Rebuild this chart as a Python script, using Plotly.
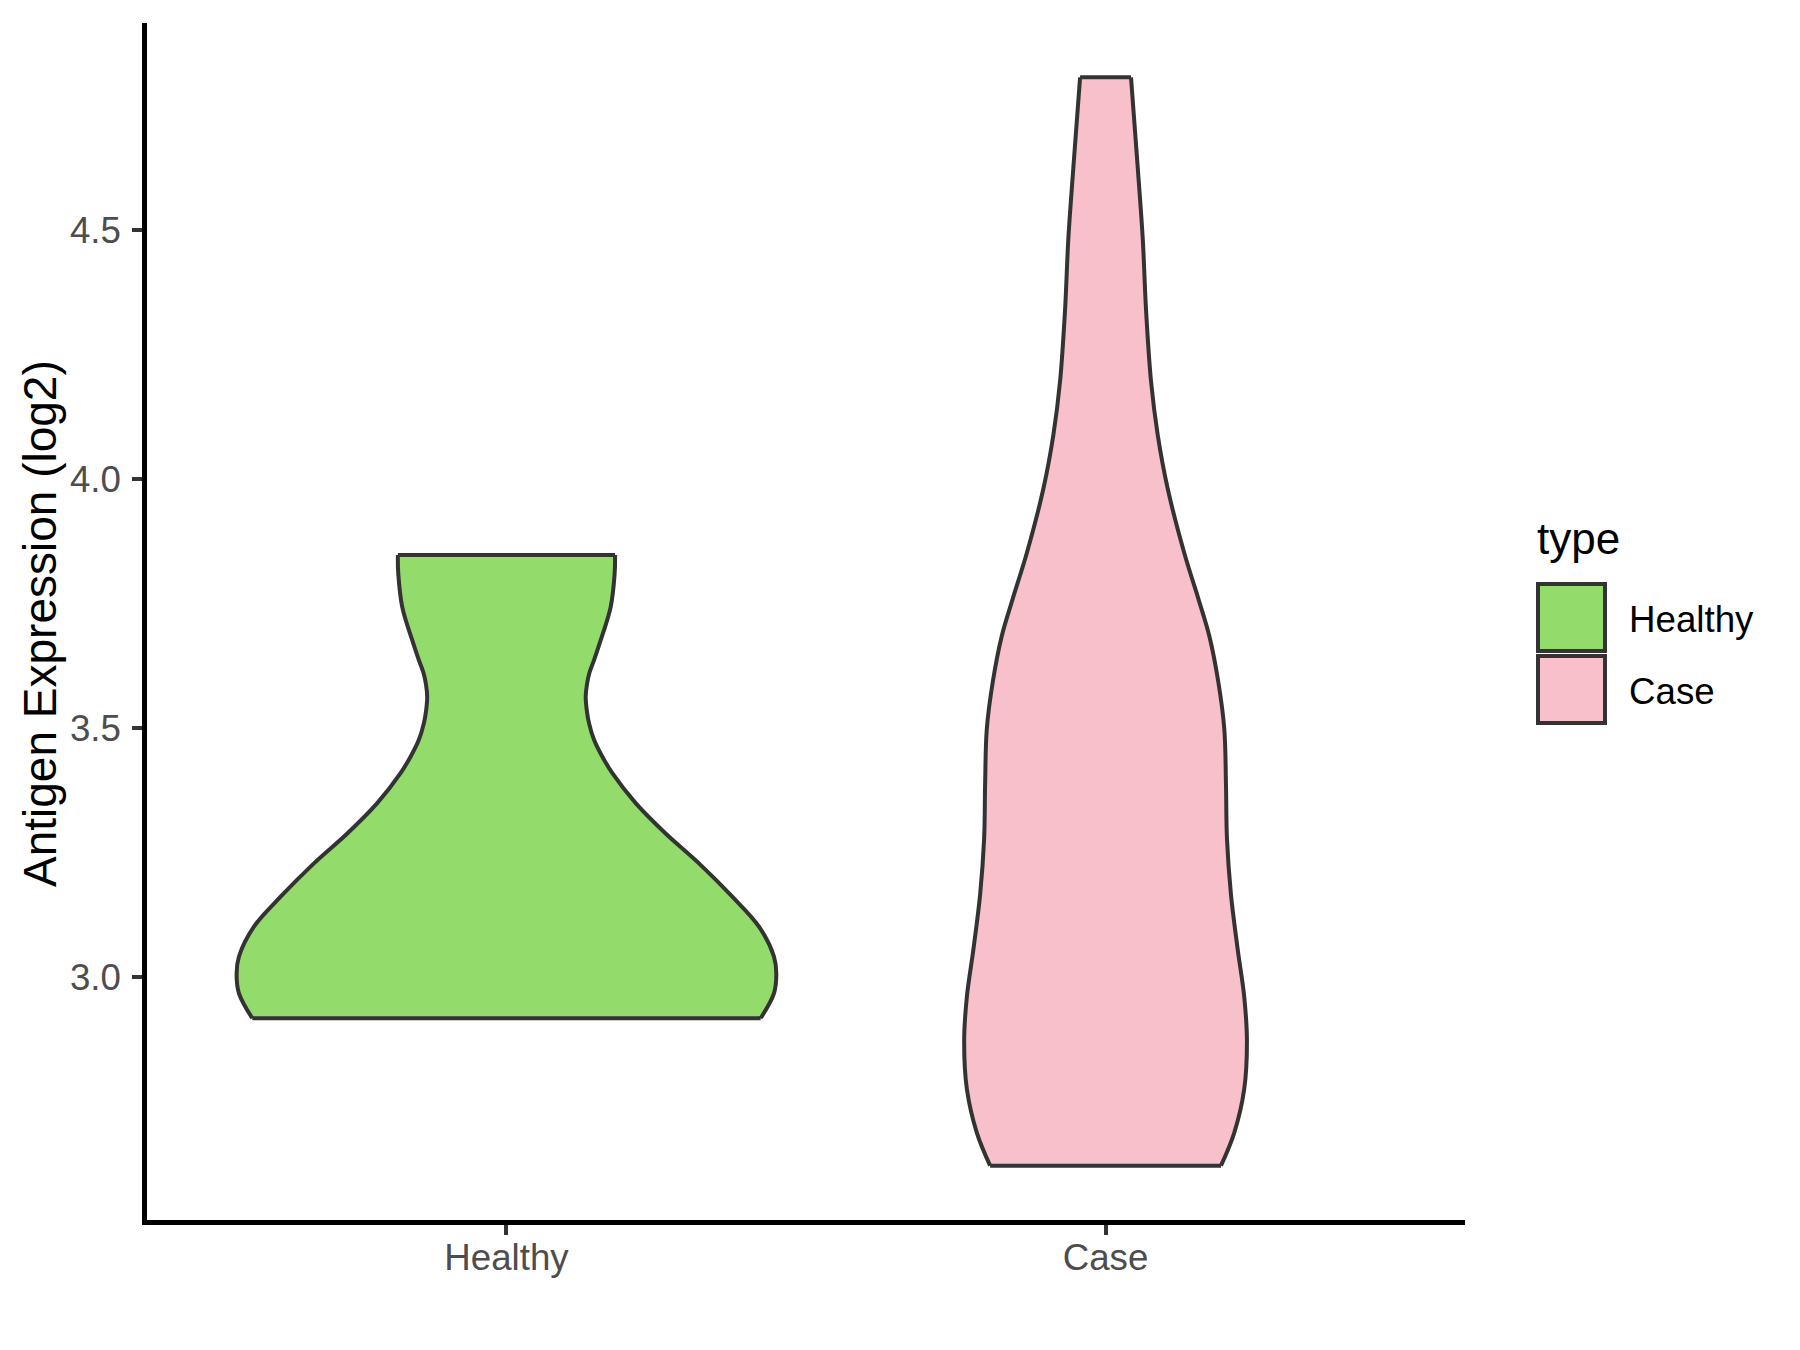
import plotly.graph_objects as go

# ---------------- data ----------------
categories = ["Healthy", "Case"]
fill_colors = ["#93DB6B", "#F7C0CB"]
outline_color = "#333333"

# violin outline: expression level (log2) and half-width of the density shape
healthy_y = [2.917, 2.967, 3.007, 3.041, 3.101, 3.161, 3.228, 3.288, 3.349,
             3.409, 3.442, 3.476, 3.509, 3.536, 3.563, 3.589, 3.610, 3.636,
             3.676, 3.743, 3.810, 3.847]
healthy_halfwidth = [0.4242, 0.4465, 0.4504, 0.4465, 0.4215, 0.3770, 0.3214,
                     0.2657, 0.2157, 0.1768, 0.1601, 0.1462, 0.1379, 0.1340,
                     0.1323, 0.1346, 0.1384, 0.1462, 0.1573, 0.1740, 0.1806,
                     0.1813]

case_y = [2.621, 2.687, 2.775, 2.871, 2.960, 3.056, 3.166, 3.277, 3.388, 3.498,
          3.594, 3.683, 3.757, 3.851, 3.980, 4.088, 4.196, 4.339, 4.482, 4.625,
          4.806]
case_halfwidth = [0.1927, 0.2148, 0.2315, 0.2360, 0.2315, 0.2205, 0.2093,
                  0.2027, 0.2010, 0.1982, 0.1880, 0.1735, 0.1555, 0.1314,
                  0.1038, 0.0871, 0.0759, 0.0676, 0.0621, 0.0537, 0.0425]

y_tick_values = [3.0, 3.5, 4.0, 4.5]
y_tick_labels = ["3.0", "3.5", "4.0", "4.5"]
y_title = "Antigen Expression (log2)"
legend_title = "type"

# ---------------- layout geometry ----------------
W, H = 1800, 1350
PAGE_OFF = 8          # default body margin of the html page
# panel edges wanted on the page
P_LEFT, P_RIGHT, P_TOP, P_BOTTOM = 147, 1465, 23, 1220
ML = P_LEFT - PAGE_OFF
MT = P_TOP - PAGE_OFF
MR = W - (P_RIGHT - PAGE_OFF)
MB = H - (P_BOTTOM - PAGE_OFF)
FONT = "Liberation Sans, Arial, Helvetica, sans-serif"
LW = 4

fig = go.Figure()

violins = [(healthy_y, healthy_halfwidth), (case_y, case_halfwidth)]
for i, (ys, ws) in enumerate(violins):
    left = [i - w for w in ws]
    right = [i + w for w in ws]
    line = dict(color=outline_color, width=LW, shape="spline", smoothing=1)
    fig.add_trace(go.Scatter(x=left, y=ys, mode="lines", line=line,
                             showlegend=False, hoverinfo="skip"))
    fig.add_trace(go.Scatter(x=right, y=ys, mode="lines", line=line,
                             fill="tonextx", fillcolor=fill_colors[i],
                             showlegend=False, hoverinfo="skip"))
    # flat trimmed ends (bottom and top)
    fig.add_trace(go.Scatter(
        x=[left[0], right[0], None, left[-1], right[-1]],
        y=[ys[0], ys[0], None, ys[-1], ys[-1]],
        mode="lines", line=dict(color=outline_color, width=LW),
        showlegend=False, hoverinfo="skip"))

axis_common = dict(showgrid=False, zeroline=False, showline=True,
                   linecolor="black", linewidth=4.5, ticks="outside",
                   ticklen=10, tickwidth=4, tickcolor=outline_color,
                   tickfont=dict(family=FONT, size=36.7, color="#4D4D4D"))

fig.update_layout(
    width=W, height=H,
    margin=dict(l=ML, r=MR, t=MT, b=MB),
    paper_bgcolor="white", plot_bgcolor="white",
    showlegend=False,
    xaxis=dict(range=[-0.6, 1.6], tickvals=list(range(len(categories))),
               ticktext=categories, ticklabelstandoff=-9, **axis_common),
    yaxis=dict(range=[2.512, 4.915], tickvals=y_tick_values,
               ticktext=y_tick_labels, ticklabelstandoff=4, **axis_common),
)

pw = P_RIGHT - P_LEFT
ph = P_BOTTOM - P_TOP


def px_x(x):
    return (x - P_LEFT) / pw


def px_y(y):
    return (P_BOTTOM - y) / ph


# y-axis title
fig.add_annotation(text=y_title, textangle=-90, xref="paper", yref="paper",
                   x=px_x(40), y=px_y(624), xanchor="center", yanchor="middle",
                   showarrow=False, font=dict(family=FONT, size=46, color="black"))

# legend (ggplot-style square keys)
fig.add_annotation(text=legend_title, xref="paper", yref="paper",
                   x=px_x(1535), y=px_y(538), xanchor="left", yanchor="middle",
                   showarrow=False, font=dict(family=FONT, size=44, color="black"))
key_tops = [584, 656]
for i, cat in enumerate(categories):
    top = key_tops[i]
    fig.add_shape(type="rect", xref="paper", yref="paper",
                  x0=px_x(1538), x1=px_x(1605), y0=px_y(top + 67), y1=px_y(top),
                  fillcolor=fill_colors[i], line=dict(color=outline_color, width=4))
    fig.add_annotation(text=cat, xref="paper", yref="paper",
                       x=px_x(1627), y=px_y(top + 35), xanchor="left",
                       yanchor="middle", showarrow=False,
                       font=dict(family=FONT, size=36.7, color="black"))

fig.write_html("out.html")
